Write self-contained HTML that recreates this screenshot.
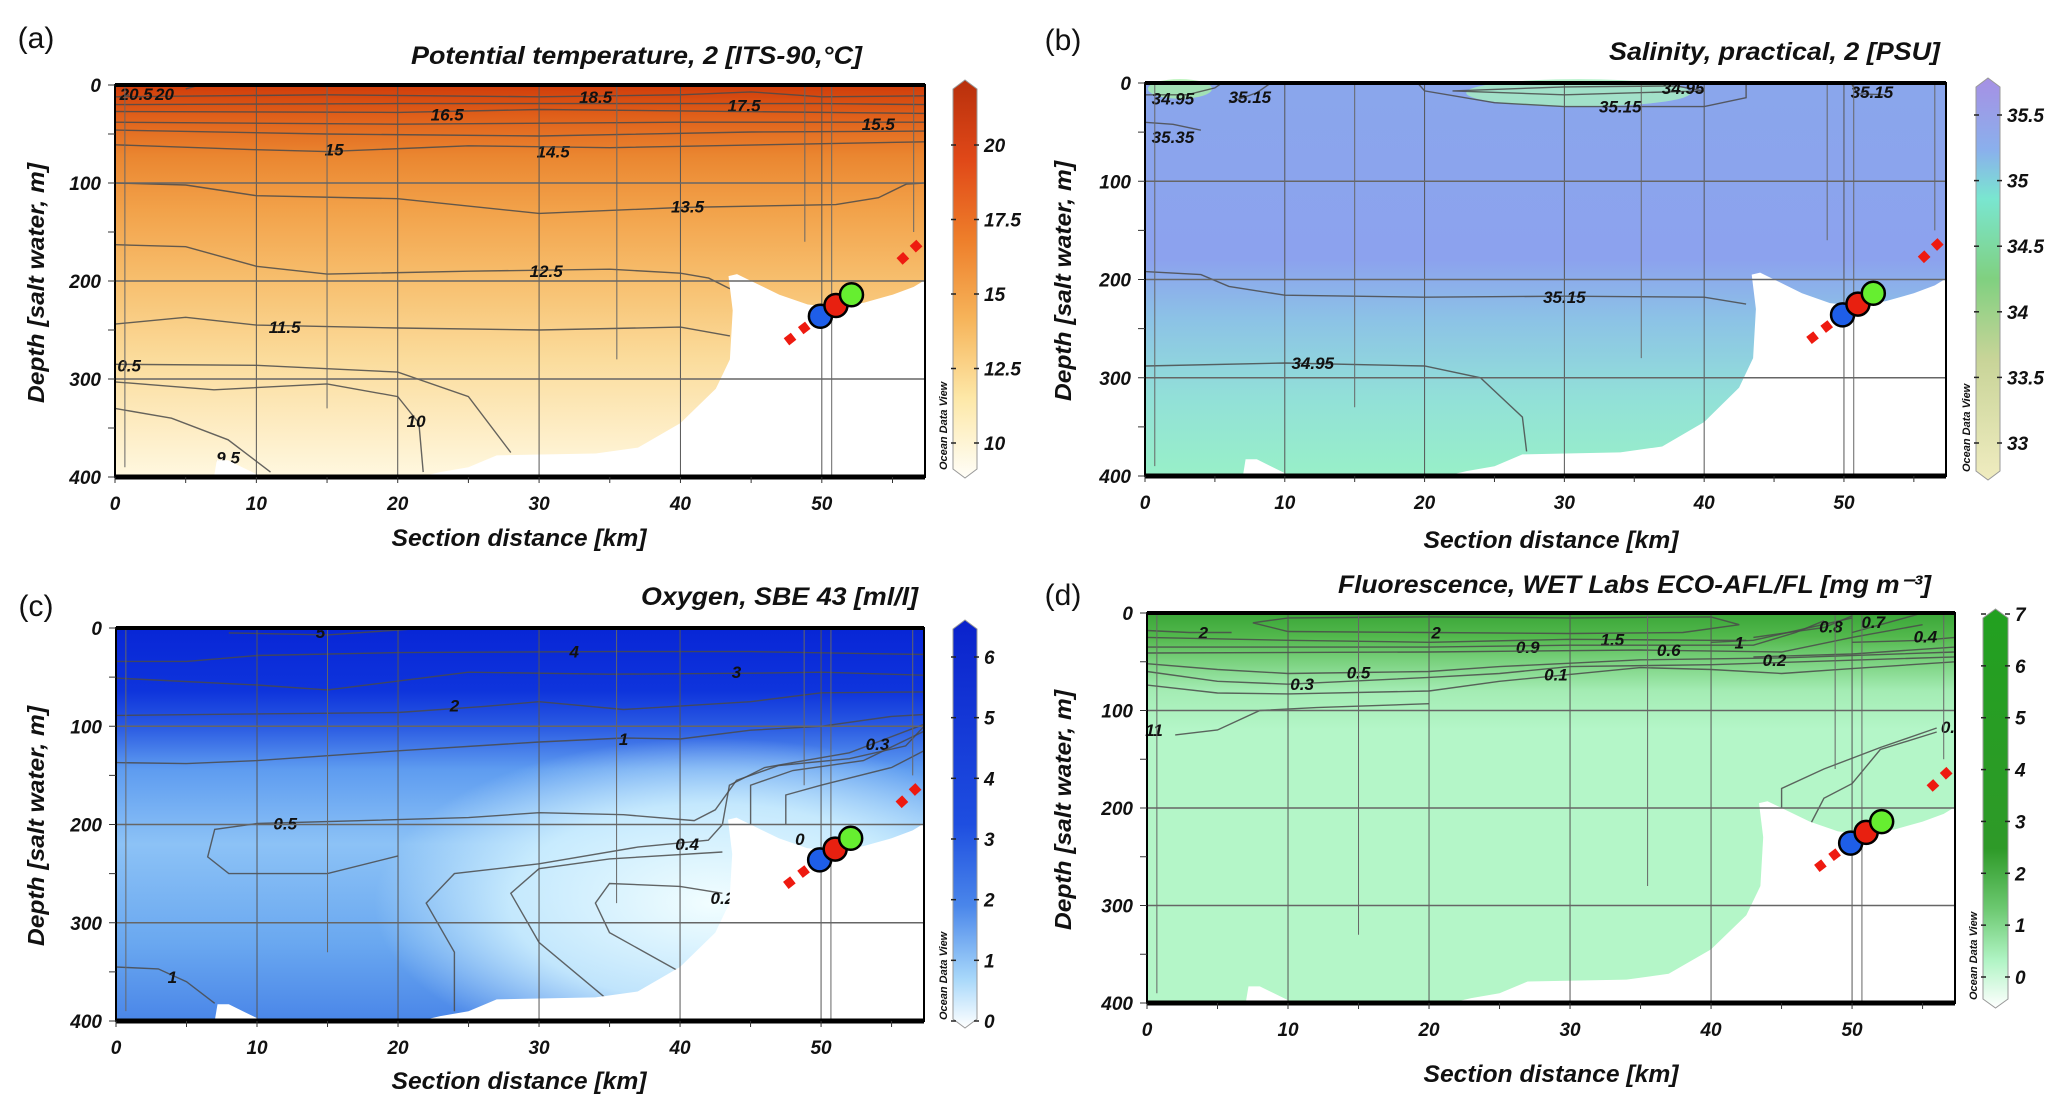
<!DOCTYPE html>
<html><head><meta charset="utf-8"><title>Ocean sections</title>
<style>
html,body{margin:0;padding:0;background:#fff;}
svg{display:block;font-family:"Liberation Sans",Arial,sans-serif;}
.tk{font-size:19px;font-weight:bold;font-style:italic;fill:#111;}
.cl{font-size:17px;font-weight:bold;font-style:italic;fill:#111;}
</style></head>
<body>
<svg id="fig" width="2067" height="1112" viewBox="0 0 2067 1112" xmlns="http://www.w3.org/2000/svg">
<defs>
<linearGradient id="gA" x1="0" y1="0" x2="0" y2="1">
<stop offset="0" stop-color="#d03c0a"/><stop offset="0.08" stop-color="#e0601a"/><stop offset="0.18" stop-color="#ea8630"/>
<stop offset="0.32" stop-color="#f2a24a"/><stop offset="0.5" stop-color="#f7bf6e"/><stop offset="0.7" stop-color="#fbdc9c"/><stop offset="1" stop-color="#fff8e0"/></linearGradient>
<linearGradient id="gB" x1="0" y1="0" x2="0" y2="1">
<stop offset="0" stop-color="#8aa6ec"/><stop offset="0.45" stop-color="#8ca2ee"/><stop offset="0.6" stop-color="#8cc2e6"/>
<stop offset="0.8" stop-color="#92e0d8"/><stop offset="1" stop-color="#98f0c8"/></linearGradient>
<linearGradient id="gC" x1="0" y1="0" x2="0" y2="1">
<stop offset="0" stop-color="#0826d6"/><stop offset="0.16" stop-color="#0e34dc"/><stop offset="0.25" stop-color="#2a5ae2"/>
<stop offset="0.36" stop-color="#5e9cf0"/><stop offset="0.55" stop-color="#8cc2f6"/><stop offset="0.8" stop-color="#6aa8f0"/><stop offset="1" stop-color="#4a86e8"/></linearGradient>
<radialGradient id="gC2" cx="0.74" cy="0.7" r="0.42">
<stop offset="0" stop-color="#f2feff" stop-opacity="1"/><stop offset="0.6" stop-color="#d2f2ff" stop-opacity="0.85"/><stop offset="1" stop-color="#d2f2ff" stop-opacity="0"/></radialGradient>
<linearGradient id="gD" x1="0" y1="0" x2="0" y2="1">
<stop offset="0" stop-color="#3aa638"/><stop offset="0.06" stop-color="#52b84c"/><stop offset="0.12" stop-color="#78d07c"/>
<stop offset="0.2" stop-color="#a4ecb4"/><stop offset="0.3" stop-color="#b4f6c8"/><stop offset="1" stop-color="#b4f6c8"/></linearGradient>
<linearGradient id="cA" x1="0" y1="1" x2="0" y2="0">
<stop offset="0" stop-color="#fffef8"/><stop offset="0.2" stop-color="#fde8a8"/><stop offset="0.4" stop-color="#f6b45a"/><stop offset="0.6" stop-color="#ee7e2a"/><stop offset="0.8" stop-color="#e04818"/><stop offset="1" stop-color="#b8300c"/></linearGradient>
<linearGradient id="cB" x1="0" y1="1" x2="0" y2="0">
<stop offset="0" stop-color="#f0ecc0"/><stop offset="0.3" stop-color="#c8d498"/><stop offset="0.5" stop-color="#80d080"/><stop offset="0.7" stop-color="#7ae6d0"/><stop offset="0.82" stop-color="#8ab0ec"/><stop offset="1" stop-color="#a690e4"/></linearGradient>
<linearGradient id="cC" x1="0" y1="1" x2="0" y2="0">
<stop offset="0" stop-color="#ffffff"/><stop offset="0.12" stop-color="#a8d8fa"/><stop offset="0.3" stop-color="#4a86ea"/><stop offset="0.5" stop-color="#1e4ee0"/><stop offset="1" stop-color="#0a22cc"/></linearGradient>
<linearGradient id="cD" x1="0" y1="1" x2="0" y2="0">
<stop offset="0" stop-color="#ffffff"/><stop offset="0.12" stop-color="#b0f4c4"/><stop offset="0.25" stop-color="#6cc870"/><stop offset="0.4" stop-color="#2e9a28"/><stop offset="1" stop-color="#22a020"/></linearGradient>
</defs>
</svg>
<script>
const xTicks = [0, 10, 20, 30, 40, 50];
const yTicks = [0, 100, 200, 300, 400];
const XMAX = 57.3, DMAX = 400;
const seafloorMain = [[21.5,400],[23,395],[25,390],[27,378],[34,376],[37,370],[40,345],[42.5,310],[43.5,280],[43.7,230],[43.4,195],[44,193],[45,200],[47,214],[49,224],[51,227],[53,222],[55,214],[56.5,206],[57.3,199],[57.3,400]];
const seafloorBump = [[7,400],[7.2,383],[8,383],[9,390],[10,397],[10.5,400]];
const stationLines = [[0.7,390],[15,330],[35.5,280],[48.8,160],[50.7,400],[56.5,150]];
const markerCircles = [[49.9,236,'#1e5ee8'],[51,225,'#e82010'],[52.1,214,'#66ee30']];
const markerDashLow = [[47.5,262],[52.6,205]];
const markerDashHigh = [[55.5,180],[57,160]];

const tempContours = [
 ['18.5',[[0,12],[15,10],[30,12],[40,10],[45,7],[50,12],[57.3,11]],[34,12]],
 ['17.5',[[0,20],[20,19],[40,19],[50,19],[57.3,20]],[44.5,21]],
 ['16.5',[[0,27],[20,28],[30,25],[57.3,29]],[23.5,30]],
 ['15.5',[[0,38],[20,40],[40,38],[57.3,38]],[54,40]],
 ['14.5',[[0,46],[15,50],[30,52],[45,48],[57.3,47]],[31,68]],
 ['15',[[0,61],[10,66],[15,68],[25,62],[35,64],[57.3,58]],[15.5,66]],
 ['13.5',[[0,100],[5,102],[10,113],[20,116],[30,131],[40,125],[51,122],[54,115],[56,101],[57.3,100]],[40.5,124]],
 ['12.5',[[0,163],[5,165],[10,185],[15,193],[25,190],[35,188],[40,192],[42,197],[43.5,208]],[30.5,190]],
 ['11.5',[[0,244],[5,237],[10,245],[20,248],[30,250],[40,247],[43.5,256]],[12,247]],
 ['0.5',[[0,285],[10,286],[20,293],[25,318],[28,375]],[1,286]],
 ['10',[[0,303],[7,311],[15,305],[20,318],[21.5,345],[21.8,395]],[21.3,343]],
 ['9.5',[[0,330],[4,340],[8,362],[11,395]],[8,380]],
 ['20',[[5,4],[6,0]],[3.5,9]],
 ['20.5',[[1,10],[0.3,12]],[1.5,9]]
];
const salContours = [
 ['35.15',[[0,192],[4,195],[6,207],[10,216],[20,218],[30,217],[40,218],[43,225]],[30,218]],
 ['34.95',[[0,288],[10,285],[20,288],[24,300],[27,340],[27.3,375]],[12,285]],
 ['35.15',[[19.5,0],[20,8],[25,20],[30,24],[40,24],[43,15],[43,0]],[34,24]],
 ['34.95',[[22,8],[30,4],[38,3],[40,8],[30,12],[22,8]],[38.5,5]],
 ['34.95',[[0,12],[3,12],[5,5],[5.5,0]],[2,16]],
 ['35.15',[[6,20],[8,10],[9,0]],[7.5,14]],
 ['35.35',[[0,40],[2,42],[4,48]],[2,55]],
 ['35.15',[[50.5,0],[51,11],[53,12]],[52,9]]
];
const oxyContours = [
 ['5',[[8,5],[15,7],[20,2],[22,0]],[14.5,4]],
 ['4',[[0,34],[5,34],[10,28],[20,25],[35,24],[45,24],[57.3,27]],[32.5,24]],
 ['3',[[0,51],[10,58],[15,63],[25,45],[35,47],[45,46],[50,45],[57.3,48]],[44,45]],
 ['2',[[0,89],[20,86],[26,80],[30,75],[36,83],[45,75],[50,66],[57.3,65]],[24,79]],
 ['1',[[0,137],[5,138],[10,135],[20,125],[30,116],[36,112],[40,113],[45,104],[50,100],[55,90],[57.3,88]],[36,113]],
 ['0.5',[[20,232],[15,250],[8,250],[6.5,233],[7,205],[10,199],[25,193],[30,188],[36,190],[41,196],[42.5,185],[44,155],[47,140],[52,133],[56,120],[57.3,100]],[12,199]],
 ['0.4',[[24,390],[24,330],[22,280],[24,250],[30,240],[37,223],[42,216],[43,200],[43.5,160],[46,142],[52,127],[57.3,98]],[40.5,220]],
 ['0.3',[[35,380],[30,320],[28,270],[30,245],[35,235],[43,228]],[54,118]],
 ['0.3',[[45,200],[45,160],[48,145],[53,135],[57.3,105]],[0,0]],
 ['0.2',[[40,350],[35,310],[34,280],[35,260],[40,263],[43,270]],[43,275]],
 ['1',[[0,345],[3,347],[5,360],[7,382]],[4,355]],
 ['0',[[47.5,200],[47.5,170],[50,160],[55,142],[57.3,125]],[48.5,215]]
];
const fluoContours = [
 ['2',[[7.5,10],[10,5],[20,4],[30,5],[40,4],[42,12],[38,20],[30,21],[20,20],[10,19],[7.5,10]],[20.5,20]],
 ['2',[[0,18],[3,20],[6,20]],[4,20]],
 ['1.5',[[0,25],[10,28],[20,30],[30,27],[40,28],[42.5,28]],[33,27]],
 ['0.9',[[0,35],[20,35],[30,33],[43,33],[46,20],[48,8]],[27,35]],
 ['0.6',[[0,41],[20,40],[35,38],[45,40],[50,25],[55,12]],[37,38]],
 ['1',[[40,30],[43,28],[47,15],[50,5]],[42,30]],
 ['0.5',[[0,52],[5,58],[10,62],[15,61],[20,60],[25,55],[35,48],[45,46],[57.3,40]],[15,61]],
 ['0.3',[[0,60],[5,70],[10,73],[20,66],[25,62],[30,55],[40,53],[57.3,45]],[11,73]],
 ['0.1',[[0,74],[5,82],[10,83],[20,80],[25,70],[30,63],[35,56],[40,58],[45,62],[50,57],[57.3,50]],[29,63]],
 ['0.2',[[43,45],[50,42],[57.3,35]],[44.5,48]],
 ['0.8',[[43,25],[48,15],[50,3]],[48.5,14]],
 ['0.7',[[50,20],[53,8],[55,0]],[51.5,9]],
 ['0.4',[[50,30],[55,28],[57.3,25]],[55.2,24]],
 ['11',[[2,125],[5,120],[8,100],[12,97],[20,93]],[0.5,120]],
 ['0.',[[45,200],[45,180],[48,160],[52,138],[56,118]],[56.8,117]],
 ['',[[47,218],[48,190],[50,175],[52,140],[56,122]],[0,0]]
];
const tempCbTicks = ['10','12.5','15','17.5','20'];
const salCbTicks = ['33','33.5','34','34.5','35','35.5'];
const oxyCbTicks = ['0','1','2','3','4','5','6'];
const fluoCbTicks = ['0','1','2','3','4','5','6','7'];

const panels = [
 {id:'a',L:115,T:85,R:925,B:477,grad:'gA',cont:tempContours,cb:[953,977,80,478],cbT:tempCbTicks,cbY0:443,cbY1:145,cbGrad:'cA',
  title:'Potential  temperature, 2 [ITS-90,°C]',tx:411,tw:451,ty:64,lab:[36,48],xt:[519,546],yl:[36,283]},
 {id:'b',L:1145,T:83,R:1946,B:476,grad:'gB',cont:salContours,cb:[1976,2000,78,480],cbT:salCbTicks,cbY0:443,cbY1:115,cbGrad:'cB',
  title:'Salinity, practical, 2 [PSU]',tx:1609,tw:331,ty:60,lab:[1063,50],xt:[1551,548],yl:[1063,281]},
 {id:'c',L:116,T:628,R:924,B:1021,grad:'gC',cont:oxyContours,cb:[953,977,620,1028],cbT:oxyCbTicks,cbY0:1021,cbY1:657,cbGrad:'cC',
  title:'Oxygen, SBE 43 [ml/l]',tx:641,tw:277,ty:605,lab:[36,616],xt:[519,1089],yl:[36,826]},
 {id:'d',L:1147,T:613,R:1955,B:1003,grad:'gD',cont:fluoContours,cb:[1983,2008,609,1008],cbT:fluoCbTicks,cbY0:977,cbY1:614,cbGrad:'cD',
  title:'Fluorescence, WET Labs ECO-AFL/FL [mg m⁻³]',tx:1338,tw:593,ty:593,lab:[1063,605],xt:[1551,1082],yl:[1063,810]}
];

const NS='http://www.w3.org/2000/svg';
const svg=document.getElementById('fig');
function mk(tag,attrs,parent){const e=document.createElementNS(NS,tag);for(const k in attrs)e.setAttribute(k,attrs[k]);(parent||svg).appendChild(e);return e;}

panels.forEach(p=>{
 const g=mk('g',{});
 
 
 const W=p.R-p.L,H=p.B-p.T;
 const xs=k=>p.L+k/XMAX*W, ys=d=>p.T+d/DMAX*H;
 const pts=a=>a.map(q=>xs(q[0]).toFixed(1)+','+ys(q[1]).toFixed(1)).join(' ');
 const bg=mk('rect',{x:p.L,y:p.T,width:W,height:H,fill:'url(#'+p.grad+')'},g);
 
 
 if(p.id==='c'){mk('rect',{x:p.L,y:p.T,width:W,height:H,fill:'url(#gC2)'},g);}
 if(p.id==='b'){mk('ellipse',{cx:xs(31),cy:ys(10),rx:W*0.14,ry:H*0.035,fill:'#a8f0c0',opacity:0.8},g);mk('ellipse',{cx:xs(2.5),cy:ys(6),rx:W*0.04,ry:H*0.025,fill:'#a8f0a8',opacity:0.8},g);}
 p.cont.forEach((c,i)=>{
  const pl=mk('polyline',{points:pts(c[1]),fill:'none',stroke:'#4a4a4a','stroke-width':1.4,opacity:0.85},g);
  
  
  if(c[0]&&(c[2][0]||c[2][1])){
   const t=mk('text',{x:xs(c[2][0]),y:ys(c[2][1])+6,class:'cl','text-anchor':'middle'},g);
   t.textContent=c[0];
   
   
  }
 });
 const m1=mk('polygon',{points:pts(seafloorMain),fill:'#fff'},g);
 
 
 mk('polygon',{points:pts(seafloorBump),fill:'#fff'},g);
 xTicks.slice(1).forEach(k=>{mk('line',{x1:xs(k),x2:xs(k),y1:p.T,y2:p.B,stroke:'#555','stroke-width':1},g);});
 yTicks.slice(1,4).forEach(d=>{mk('line',{x1:p.L,x2:p.R,y1:ys(d),y2:ys(d),stroke:'#666','stroke-width':1.6},g);});
 stationLines.forEach(s=>{mk('line',{x1:xs(s[0]),x2:xs(s[0]),y1:p.T,y2:ys(s[1]),stroke:'#666','stroke-width':1},g);});
 [markerDashLow,markerDashHigh].forEach(dl=>{
  const l=mk('line',{x1:xs(dl[0][0]),y1:ys(dl[0][1]),x2:xs(dl[1][0]),y2:ys(dl[1][1]),stroke:'#ee1a10','stroke-width':9,'stroke-dasharray':'9,9'},g);
  
  
 });
 markerCircles.forEach(mc=>{
  const c=mk('circle',{cx:xs(mc[0]),cy:ys(mc[1]),r:11.5,fill:mc[2],stroke:'#000','stroke-width':2.5},g);
  
  
 });
 mk('rect',{x:p.L,y:p.T,width:W,height:H,fill:'none',stroke:'#000','stroke-width':2},g);
 mk('line',{x1:p.L,x2:p.R,y1:p.T,y2:p.T,stroke:'#000','stroke-width':4},g);
 mk('line',{x1:p.L,x2:p.R,y1:p.B,y2:p.B,stroke:'#000','stroke-width':5},g);
 for(let k=0;k<=55;k+=5){mk('line',{x1:xs(k),x2:xs(k),y1:p.B,y2:p.B+6,stroke:'#333','stroke-width':1},g);}
 for(let d=0;d<=400;d+=50){mk('line',{x1:p.L-7,x2:p.L,y1:ys(d),y2:ys(d),stroke:'#333','stroke-width':1},g);}
 xTicks.forEach(k=>{const t=mk('text',{x:xs(k),y:p.B+33,class:'tk','text-anchor':'middle'},g);t.textContent=k;
  
  });
 yTicks.forEach(d=>{const t=mk('text',{x:p.L-14,y:ys(d)+7,class:'tk','text-anchor':'end'},g);t.textContent=d;
  
  });
 const ti=mk('text',{x:p.tx,y:p.ty,'font-size':25,'font-weight':'bold','font-style':'italic',textLength:p.tw,lengthAdjust:'spacingAndGlyphs',fill:'#111'},g);
 ti.textContent=p.title;
 
 
 const la=mk('text',{x:p.lab[0],y:p.lab[1],'font-size':30,fill:'#111','text-anchor':'middle'},g);
 la.textContent='('+p.id+')';
 
 
 const xt=mk('text',{x:p.xt[0],y:p.xt[1],'font-size':24,'font-weight':'bold','font-style':'italic','text-anchor':'middle',textLength:255,lengthAdjust:'spacingAndGlyphs',fill:'#111'},g);
 xt.textContent='Section distance [km]';
 
 
 const yt=mk('text',{x:0,y:0,'font-size':23,'font-weight':'bold','font-style':'italic','text-anchor':'middle',textLength:240,lengthAdjust:'spacingAndGlyphs',fill:'#111',transform:'translate('+(p.yl[0]+8)+','+p.yl[1]+') rotate(-90)'},g);
 yt.textContent='Depth [salt water, m]';
 
 
 const [cx0,cx1,cy0,cy1]=p.cb, cm=(cx0+cx1)/2;
 const cb=mk('polygon',{points:`${cx0},${cy0+9} ${cm},${cy0} ${cx1},${cy0+9} ${cx1},${cy1-9} ${cm},${cy1} ${cx0},${cy1-9}`,fill:'url(#'+p.cbGrad+')',stroke:'#999','stroke-width':1},g);
 
 
 const n=p.cbT.length;
 p.cbT.forEach((v,i)=>{
  const y=p.cbY0+(p.cbY1-p.cbY0)*i/(n-1);
  mk('line',{x1:cx0-2,x2:cx0+3,y1:y,y2:y,stroke:'#222','stroke-width':1.5},g);
  mk('line',{x1:cx1-3,x2:cx1+2,y1:y,y2:y,stroke:'#222','stroke-width':1.5},g);
  const t=mk('text',{x:cx1+7,y:y+7,class:'tk'},g);t.textContent=v;
  
  
 });
 const od=mk('text',{x:0,y:0,'font-size':11,'font-weight':'bold','font-style':'italic',fill:'#111',transform:'translate('+(cx0-6)+','+(cy1-8)+') rotate(-90)'},g);
 od.textContent='Ocean Data View';
 
 
});
</script>
</body></html>
